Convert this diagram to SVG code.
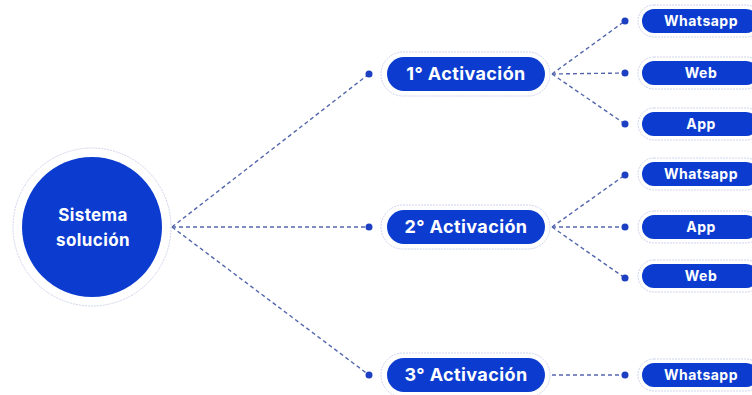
<svg xmlns="http://www.w3.org/2000/svg" width="752" height="395" viewBox="0 0 752 395">
<defs>
<style>
.ring{fill:#ffffff;stroke:#cfd4ec;stroke-width:1;stroke-dasharray:2 1}
.blue{fill:#0b3ccf}
.lbl{fill:#ffffff;font-family:Inter,"Liberation Sans",sans-serif;font-weight:700;text-anchor:middle}
.big{font-size:18px;letter-spacing:0.4px}
.sm{font-size:14px;letter-spacing:0.5px}
.mid{font-size:17px;letter-spacing:0.4px}
.con{fill:none;stroke:#5467ad;stroke-width:1.4;stroke-dasharray:4 3}
.dot{fill:#1d3fc2}
</style>
</defs>
<rect width="752" height="395" fill="#ffffff"/>
<g id="connectors">
<path class="con" d="M172 227 L369 74"/>
<path class="con" d="M172 227 L369 227"/>
<path class="con" d="M172 227 L369 375"/>
<path class="con" d="M552 74 L625 21"/>
<path class="con" d="M552 74 L625 73"/>
<path class="con" d="M552 74 L625 124"/>
<path class="con" d="M552 227 L625 175"/>
<path class="con" d="M552 227 L625 227"/>
<path class="con" d="M552 227 L625 278"/>
<path class="con" d="M552 375 L625 375"/>
<circle class="dot" cx="369" cy="74" r="3.5"/>
<circle class="dot" cx="369" cy="227" r="3.5"/>
<circle class="dot" cx="369" cy="375" r="3.5"/>
<circle class="dot" cx="625" cy="21" r="3.5"/>
<circle class="dot" cx="625" cy="73" r="3.5"/>
<circle class="dot" cx="625" cy="124" r="3.5"/>
<circle class="dot" cx="625" cy="175" r="3.5"/>
<circle class="dot" cx="625" cy="227" r="3.5"/>
<circle class="dot" cx="625" cy="278" r="3.5"/>
<circle class="dot" cx="625" cy="375" r="3.5"/>
</g>
<g id="sistema">
<circle class="ring" cx="92" cy="227" r="79"/>
<circle class="blue" cx="92" cy="227" r="70"/>
<text class="lbl mid" x="93" y="221">Sistema</text>
<text class="lbl mid" x="93" y="246">solución</text>
</g>
<g id="act1">
<rect class="ring" x="381" y="52" width="169" height="44" rx="22"/>
<rect class="blue" x="387" y="57" width="158" height="34" rx="17"/>
<text class="lbl big" x="466" y="80">1° Activación</text>
</g>
<g id="act2">
<rect class="ring" x="381" y="205" width="169" height="44" rx="22"/>
<rect class="blue" x="387" y="210" width="158" height="34" rx="17"/>
<text class="lbl big" x="466" y="233">2° Activación</text>
</g>
<g id="act3">
<rect class="ring" x="381" y="353" width="169" height="44" rx="22"/>
<rect class="blue" x="387" y="358" width="158" height="34" rx="17"/>
<text class="lbl big" x="466" y="381">3° Activación</text>
</g>
<g id="n1-whatsapp">
<rect class="ring" x="638" y="5" width="124" height="32" rx="16"/>
<rect class="blue" x="642" y="9" width="116" height="24" rx="12"/>
<text class="lbl sm" x="701" y="26">Whatsapp</text>
</g>
<g id="n1-web">
<rect class="ring" x="638" y="57" width="124" height="32" rx="16"/>
<rect class="blue" x="642" y="61" width="116" height="24" rx="12"/>
<text class="lbl sm" x="701" y="78">Web</text>
</g>
<g id="n1-app">
<rect class="ring" x="638" y="108" width="124" height="32" rx="16"/>
<rect class="blue" x="642" y="112" width="116" height="24" rx="12"/>
<text class="lbl sm" x="701" y="129">App</text>
</g>
<g id="n2-whatsapp">
<rect class="ring" x="638" y="158" width="124" height="32" rx="16"/>
<rect class="blue" x="642" y="162" width="116" height="24" rx="12"/>
<text class="lbl sm" x="701" y="179">Whatsapp</text>
</g>
<g id="n2-app">
<rect class="ring" x="638" y="211" width="124" height="32" rx="16"/>
<rect class="blue" x="642" y="215" width="116" height="24" rx="12"/>
<text class="lbl sm" x="701" y="232">App</text>
</g>
<g id="n2-web">
<rect class="ring" x="638" y="260" width="124" height="32" rx="16"/>
<rect class="blue" x="642" y="264" width="116" height="24" rx="12"/>
<text class="lbl sm" x="701" y="281">Web</text>
</g>
<g id="n3-whatsapp">
<rect class="ring" x="638" y="359" width="124" height="32" rx="16"/>
<rect class="blue" x="642" y="363" width="116" height="24" rx="12"/>
<text class="lbl sm" x="701" y="380">Whatsapp</text>
</g>
</svg>
